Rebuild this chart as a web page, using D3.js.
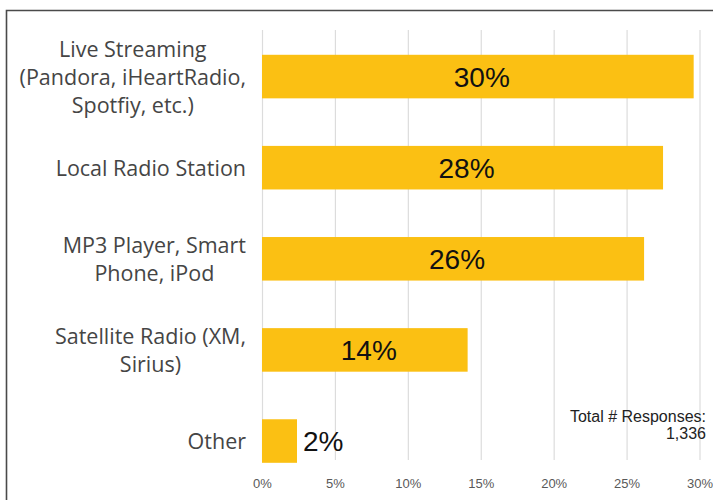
<!DOCTYPE html>
<html>
<head>
<meta charset="utf-8">
<script src="https://cdn.jsdelivr.net/npm/d3@7"></script>
<style>
  html, body { margin: 0; padding: 0; background: #fff; }
  svg { display: block; }
</style>
</head>
<body>
<svg id="chart" width="713" height="500"></svg>
<script>
// ---- data ----
const categories = [
  "Live Streaming\n(Pandora, iHeartRadio,\nSpotfiy, etc.)",
  "Local Radio Station",
  "MP3 Player, Smart\nPhone, iPod",
  "Satellite Radio (XM,\nSirius)",
  "Other"
];
const values = [29.6, 27.5, 26.2, 14.1, 2.4];
const valueLabels = ["30%", "28%", "26%", "14%", "2%"];
const tickValues = [0, 5, 10, 15, 20, 25, 30];
const tickLabels = ["0%", "5%", "10%", "15%", "20%", "25%", "30%"];
const noteLines = ["Total # Responses:", "1,336"];

// ---- layout ----
const svg = d3.select("#chart");
const W = 713, H = 500;
const plot = { left: 262, right: 699.5, gridTop: 30, gridBottom: 460 };

const x = d3.scaleLinear().domain([0, 30]).range([plot.left, plot.right]);
const y = d3.scaleBand()
  .domain(d3.range(categories.length))
  .range([31.1, 486.5])
  .paddingInner(0.522)
  .paddingOuter(0.26);

// frame (top and left borders)
svg.append("path")
  .attr("d", `M6.5,${H} L6.5,10.5 L${W},10.5`)
  .attr("fill", "none")
  .attr("stroke", "#4a4a4a")
  .attr("stroke-width", 1.6);

// gridlines via axis
const xAxis = d3.axisBottom(x)
  .tickValues(tickValues)
  .tickFormat((d, i) => tickLabels[i])
  .tickSize(-(plot.gridBottom - plot.gridTop))
  .tickPadding(0);

const gx = svg.append("g")
  .attr("transform", `translate(0,${plot.gridBottom})`)
  .call(xAxis);
gx.select(".domain").remove();
gx.selectAll(".tick line")
  .attr("stroke", "#dcdcdc")
  .attr("stroke-width", 1.2);
gx.selectAll(".tick text")
  .attr("y", 28)
  .attr("dy", 0)
  .attr("fill", "#595959")
  .style("font-family", "'Liberation Sans', Arial, sans-serif")
  .style("font-size", "13px");

// bars
svg.append("g").selectAll("rect")
  .data(values)
  .join("rect")
  .attr("x", x(0))
  .attr("y", (d, i) => y(i))
  .attr("width", d => x(d) - x(0))
  .attr("height", y.bandwidth())
  .attr("fill", "#FBC013");

// value labels
const vl = svg.append("g").selectAll("text")
  .data(values)
  .join("text")
  .style("font-family", "'Liberation Sans', Arial, sans-serif")
  .style("font-size", "28px")
  .attr("fill", "#111")
  .attr("y", (d, i) => y(i) + y.bandwidth() / 2 + 10)
  .text((d, i) => valueLabels[i]);
vl.each(function(d) {
  const t = d3.select(this);
  const w = this.getComputedTextLength();
  const bw = x(d) - x(0);
  if (bw > w + 10) {
    t.attr("x", x(0) + bw / 2 + 4).attr("text-anchor", "middle");
  } else {
    t.attr("x", x(d) + 6).attr("text-anchor", "start");
  }
});

// category labels: block right-aligned, lines centered within block
const lineH = 27.7;
const labelRight = 246;
const cg = svg.append("g");
categories.forEach((c, i) => {
  const lines = c.split("\n");
  const cy = y(i) + y.bandwidth() / 2;
  const g = cg.append("g");
  const texts = lines.map((ln, j) => g.append("text")
    .style("font-family", "'Open Sans', sans-serif")
    .style("font-size", "21.5px")
    .attr("fill", "#454545")
    .attr("text-anchor", "middle")
    .attr("y", cy + 8.3 + (j - (lines.length - 1) / 2) * lineH)
    .text(ln));
  const maxW = d3.max(texts, t => t.node().getComputedTextLength());
  texts.forEach(t => t.attr("x", labelRight - maxW / 2));
});

// note
const note = svg.append("text")
  .attr("text-anchor", "end")
  .style("font-family", "'Liberation Sans', Arial, sans-serif")
  .style("font-size", "16px")
  .attr("fill", "#222");
noteLines.forEach((ln, j) => {
  note.append("tspan").attr("x", 706).attr("y", 421.5 + j * 17.5).text(ln);
});
</script>
</body>
</html>
